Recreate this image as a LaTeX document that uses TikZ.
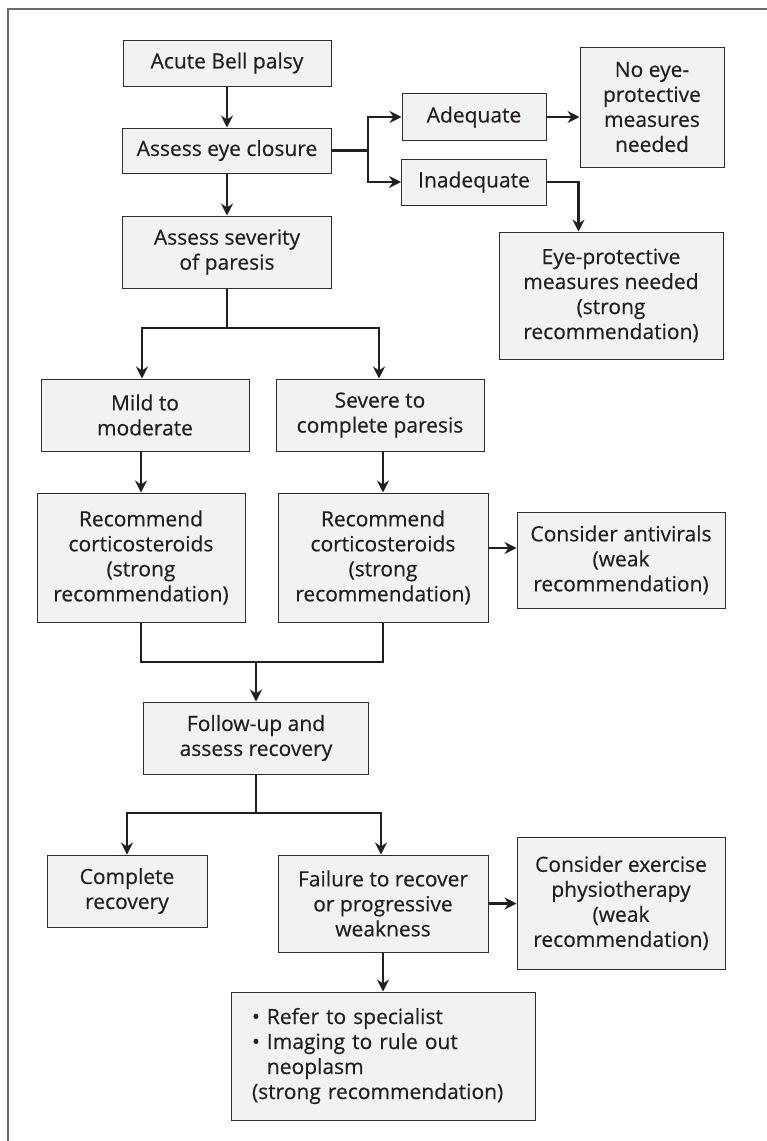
\documentclass[tikz,border=0pt]{standalone}
\usepackage{fontspec}
\setmainfont{Open Sans}[FakeBold=0.4]
\usetikzlibrary{arrows.meta,calc}
\definecolor{boxfill}{HTML}{F1F2F4}
\definecolor{boxline}{HTML}{2E2E2E}
\definecolor{arrowc}{HTML}{231F20}
\definecolor{framec}{HTML}{6A6A6A}
\definecolor{textc}{HTML}{231F20}
\tikzset{
  box/.style={draw=boxline, fill=boxfill, line width=1pt, align=center, inner sep=2pt,
    font=\fontsize{21}{25}\selectfont, text=textc},
  ln/.style={draw=arrowc, line width=2.1pt},
  arr/.style={draw=arrowc, line width=2.1pt, -{Stealth[length=12pt,width=12pt,inset=4pt]}},
}
\begin{document}
\begin{tikzpicture}[x=1pt,y=-1pt]
\useasboundingbox (0,0) rectangle (767,1141);
\draw[framec, line width=1.6pt] (8,1141) -- (8,9) -- (767,9);

% nodes
\node[box, minimum width=208pt, minimum height=46pt] (acute) at (227,63) {Acute Bell palsy};
\node[box, minimum width=209pt, minimum height=45pt] (eye) at (227,150.5) {Assess eye closure};
\node[box, minimum width=209pt, minimum height=72pt] (sev) at (227,252) {Assess severity\\of paresis};
\node[box, minimum width=144pt, minimum height=47pt] (adeq) at (474,117) {Adequate};
\node[box, minimum width=145pt, minimum height=46pt] (inadeq) at (474,182) {Inadequate};
\node[box, minimum width=144pt, minimum height=120pt] (noeye) at (652,107) {No eye-\\protective\\measures\\needed};
\node[box, minimum width=224pt, minimum height=127pt] (eyeprot) at (611,295.5) {Eye-protective\\measures needed\\(strong\\recommendation)};
\node[box, minimum width=208pt, minimum height=72pt] (mild) at (145,415) {Mild to\\moderate};
\node[box, minimum width=208pt, minimum height=72pt] (severe) at (380,415) {Severe to\\complete paresis};
\node[box, minimum width=208pt, minimum height=129pt] (recL) at (141,557.5) {Recommend\\corticosteroids\\(strong\\recommendation)};
\node[box, minimum width=210pt, minimum height=129pt] (recR) at (383,557.5) {Recommend\\corticosteroids\\(strong\\recommendation)};
\node[box, minimum width=208pt, minimum height=96pt] (antiv) at (621,560) {Consider antivirals\\(weak\\recommendation)};
\node[box, minimum width=225pt, minimum height=72pt] (follow) at (256,738) {Follow-up and\\assess recovery};
\node[box, minimum width=160pt, minimum height=72pt] (complete) at (127,891) {Complete\\recovery};
\node[box, minimum width=210pt, minimum height=97pt] (failure) at (383,903.5) {Failure to recover\\or progressive\\weakness};
\node[box, minimum width=208pt, minimum height=132pt] (exercise) at (621,903) {Consider exercise\\physiotherapy\\(weak\\recommendation)};
\node[box, minimum width=304pt, minimum height=128pt, text width=262pt, align=left] (refer) at (383,1056)
  {\textbullet\ Refer to specialist\\\textbullet\ Imaging to rule out\\\phantom{\textbullet\ }neoplasm\\(strong recommendation)};

% helper coordinates
\coordinate (b1) at (368,150.5);
\coordinate (b2) at (0,328);
\coordinate (ya) at (0,548);
\coordinate (j1) at (0,662);
\coordinate (j2) at (0,813);

% connectors
\draw[arr] (acute.south) -- (acute.south |- eye.north);
\draw[arr] (eye.south) -- (eye.south |- sev.north);

\draw[ln] (eye.east) -- (b1);
\draw[arr] (b1) |- (adeq.west);
\draw[arr] (b1) |- (inadeq.west);
\draw[arr] (adeq.east) -- (adeq.east -| noeye.west);
\draw[arr] (inadeq.east) -| ($(eyeprot.north west)+(80,0)$);

\draw[ln] (sev.south) -- (sev.south |- b2);
\draw[arr] (sev.south |- b2) -| ($(mild.north)+(-3,0)$);
\draw[arr] (sev.south |- b2) -| ($(severe.north)+(-1,0)$);

\draw[arr] (recL.north |- mild.south) -- (recL.north);
\draw[arr] (recR.north |- severe.south) -- (recR.north);
\draw[arr] (recR.east |- ya) -- (antiv.west |- ya);

\draw[ln] (recL.south) |- (recR.south |- j1) -- (recR.south);
\draw[arr] (follow.north |- j1) -- (follow.north);

\draw[ln] (follow.south) -- (follow.south |- j2);
\draw[arr] (follow.south |- j2) -| (complete.north);
\draw[arr] (follow.south |- j2) -| ($(failure.north)+(-2,0)$);
\draw[arr] (failure.east) -- (failure.east -| exercise.west);
\draw[arr] (failure.south) -- (refer.north);
\end{tikzpicture}
\end{document}
